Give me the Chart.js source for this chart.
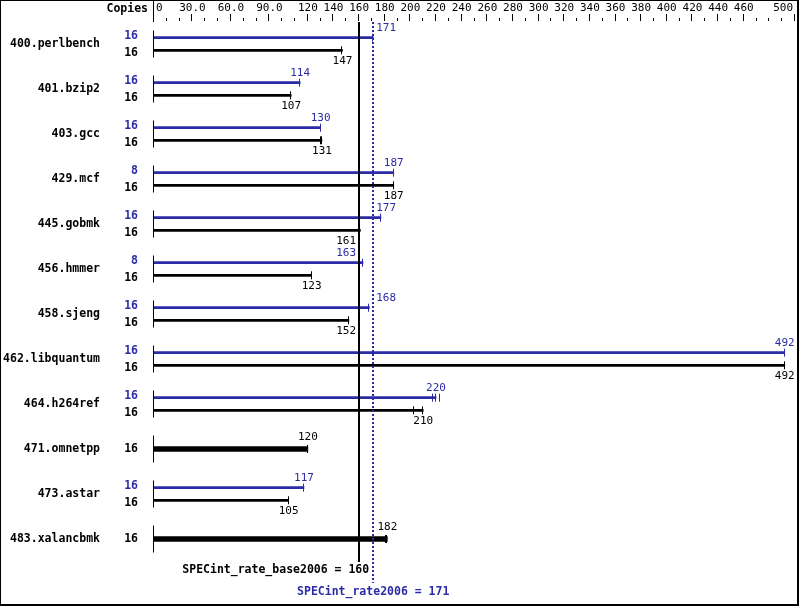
<!DOCTYPE html>
<html>
<head>
<meta charset="utf-8">
<script src="https://cdn.jsdelivr.net/npm/chart.js@4.4.1/dist/chart.umd.min.js"></script>
<style>
  html, body { margin: 0; padding: 0; background: #fff; }
  canvas { display: block; }
</style>
</head>
<body>
<canvas id="specChart" width="799" height="606"></canvas>
<script>
const benchmarks = ['400.perlbench', '401.bzip2', '403.gcc', '429.mcf', '445.gobmk', '456.hmmer',
  '458.sjeng', '462.libquantum', '464.h264ref', '471.omnetpp', '473.astar', '483.xalancbmk'];
const peakCopies = [16, 16, 16, 8, 16, 8, 16, 16, 16, null, 16, null];
const baseCopies = [16, 16, 16, 16, 16, 16, 16, 16, 16, 16, 16, 16];
const peakRatios = [171, 114, 130, 187, 177, 163, 168, 492, 220, null, 117, null];
const baseRatios = [147, 107, 131, 187, 161, 123, 152, 492, 210, 120, 105, 182];
// other run results that show up as extra end ticks
const peakRunTicks = [[], [], [], [], [], [], [], [], [218, 223], [], [], []];
const baseRunTicks = [[], [], [130], [], [160], [], [], [], [203], [], [], [181]];
const tickLabels = ['0', '30.0', '60.0', '90.0', '120', '140', '160', '180', '200', '220', '240', '260',
  '280', '300', '320', '340', '360', '380', '400', '420', '440', '460', '500'];
const baseMean = 160;
const peakMean = 171;

const BLUE = '#2b2ba6';
const BLACK = '#000';
const OFF = 0.14;          // half gap between peak and base bar, in rows
const MONO = '"DejaVu Sans Mono", monospace';

const peakPoints = [], basePoints = [], singlePoints = [];
benchmarks.forEach((b, i) => {
  if (peakRatios[i] == null) {
    singlePoints.push({ x: baseRatios[i], y: i });
  } else {
    peakPoints.push({ x: peakRatios[i], y: i - OFF });
    basePoints.push({ x: baseRatios[i], y: i + OFF });
  }
});

const specPlugin = {
  id: 'specPlugin',
  beforeDraw(chart) {
    const ctx = chart.ctx;
    ctx.save();
    ctx.fillStyle = '#fff';
    ctx.fillRect(0, 0, chart.width, chart.height);
    ctx.restore();
  },
  afterDatasetsDraw(chart) {
    const ctx = chart.ctx;
    const xs = chart.scales.x, ys = chart.scales.y;
    const x0 = Math.round(xs.getPixelForValue(0)) - 0.5;
    const x160 = xs.getPixelForValue(baseMean);
    const x171 = xs.getPixelForValue(peakMean);
    const top = chart.chartArea.top;
    ctx.save();

    function vline(x, y1, y2, color, w) {
      ctx.strokeStyle = color;
      ctx.lineWidth = w || 1;
      ctx.beginPath();
      ctx.moveTo(x, y1);
      ctx.lineTo(x, y2);
      ctx.stroke();
    }
    function endTick(v, y, color) {
      const x = Math.round(xs.getPixelForValue(v)) - 0.5;
      vline(x, y - 4, y + 4, color, 1);
    }
    function valueLabel(text, ex, y, color) {
      ctx.font = '11px ' + MONO;
      ctx.fillStyle = color;
      ctx.textAlign = 'left';
      ctx.textBaseline = 'middle';
      const w = ctx.measureText(text).width;
      let left = ex - w / 2;
      const hits = v => left - 1 < v && left + w + 1 > v;
      if (hits(x160) || hits(x171)) {
        left = ex < (x160 + x171) / 2 ? x160 - 3 - w : x171 + 3;
      }
      ctx.fillText(text, left, y);
    }

    // axis header, ticks, labels
    vline(x0, 0, top, BLACK, 1);
    ctx.font = 'bold 11.5px ' + MONO;
    ctx.fillStyle = BLACK;
    ctx.textAlign = 'right';
    ctx.textBaseline = 'middle';
    ctx.fillText('Copies', 148, 9);
    const labelVals = tickLabels.map(parseFloat);
    for (let v = 10; v <= 500; v += 10) {
      const x = Math.round(xs.getPixelForValue(v)) - 0.5;
      const major = labelVals.includes(v);
      vline(x, major ? top - 8 : top - 4, top - 1, BLACK, 1);
    }
    ctx.font = '11px ' + MONO;
    tickLabels.forEach((t, k) => {
      const x = xs.getPixelForValue(labelVals[k]);
      const last = k === tickLabels.length - 1;
      ctx.textAlign = k === 0 ? 'left' : (last ? 'right' : 'center');
      ctx.fillText(t, k === 0 ? x + 2 : (last ? x - 2 : x), 8);
    });

    // rows
    benchmarks.forEach((name, i) => {
      const yc = ys.getPixelForValue(i);
      vline(x0, ys.getPixelForValue(i - 0.3), ys.getPixelForValue(i + 0.3), BLACK, 1);
      ctx.font = 'bold 11.5px ' + MONO;
      ctx.fillStyle = BLACK;
      ctx.textAlign = 'right';
      ctx.textBaseline = 'middle';
      ctx.fillText(name, 100, yc);
      if (peakRatios[i] == null) {
        ctx.fillText(String(baseCopies[i]), 138, yc);
        const ex = xs.getPixelForValue(baseRatios[i]);
        endTick(baseRatios[i], yc, BLACK);
        baseRunTicks[i].forEach(v => endTick(v, yc, BLACK));
        valueLabel(String(baseRatios[i]), ex, yc - 12, BLACK);
      } else {
        const yp = ys.getPixelForValue(i - OFF), yb = ys.getPixelForValue(i + OFF);
        ctx.fillStyle = BLUE;
        ctx.fillText(String(peakCopies[i]), 138, yp - 2);
        ctx.fillStyle = BLACK;
        ctx.fillText(String(baseCopies[i]), 138, yb + 3);
        endTick(peakRatios[i], yp, BLUE);
        peakRunTicks[i].forEach(v => endTick(v, yp, BLUE));
        endTick(baseRatios[i], yb, BLACK);
        baseRunTicks[i].forEach(v => endTick(v, yb, BLACK));
        valueLabel(String(peakRatios[i]), xs.getPixelForValue(peakRatios[i]), yp - 10, BLUE);
        valueLabel(String(baseRatios[i]), xs.getPixelForValue(baseRatios[i]), yb + 11, BLACK);
      }
    });

    // overall means
    vline(Math.round(x160), top, 562, BLACK, 2);
    ctx.setLineDash([2, 2]);
    vline(Math.round(x171), top, 583, BLUE, 2);
    ctx.setLineDash([]);
    ctx.font = 'bold 11.5px ' + MONO;
    ctx.textBaseline = 'middle';
    ctx.fillStyle = BLACK;
    ctx.textAlign = 'right';
    ctx.fillText('SPECint_rate_base2006 = ' + baseMean, x171 - 4, 570);
    ctx.fillStyle = BLUE;
    ctx.textAlign = 'center';
    ctx.fillText('SPECint_rate2006 = ' + peakMean, x171, 592);

    // frame
    ctx.strokeStyle = BLACK;
    ctx.lineWidth = 2;
    ctx.strokeRect(0, 0, 798, 605);
    ctx.restore();
  }
};

new Chart(document.getElementById('specChart'), {
  type: 'bar',
  data: {
    datasets: [
      { label: 'Peak', data: peakPoints, backgroundColor: BLUE, barThickness: 2, grouped: false },
      { label: 'Base', data: basePoints, backgroundColor: BLACK, barThickness: 2, grouped: false },
      { label: 'Base = Peak', data: singlePoints, backgroundColor: BLACK, barThickness: 5, grouped: false }
    ]
  },
  options: {
    indexAxis: 'y',
    responsive: false,
    animation: false,
    devicePixelRatio: 1,
    layout: { padding: { left: 154, right: 4, top: 22, bottom: 22 } },
    scales: {
      x: { type: 'linear', position: 'top', min: 0, max: 500, offset: false, display: false },
      y: { type: 'linear', min: -0.489, max: 12, reverse: true, offset: false, display: false }
    },
    plugins: { legend: { display: false }, tooltip: { enabled: false } }
  },
  plugins: [specPlugin]
});
</script>
</body>
</html>
